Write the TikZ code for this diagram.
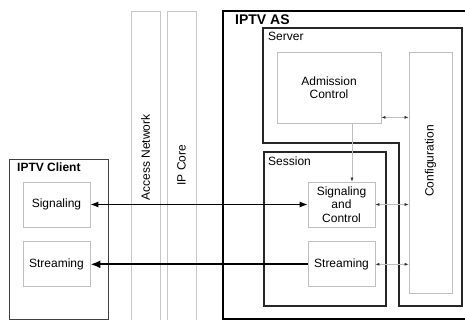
\documentclass[tikz,border=0pt]{standalone}
\usepackage{fontspec}
\setmainfont{Liberation Sans}
\usepackage{tikz}
\usetikzlibrary{arrows.meta}
\usetikzlibrary{positioning}
\tikzset{>={Latex[length=8pt,width=6pt]}}
\tikzset{
  part/.style={draw=black!25, line width=0.8pt, minimum width=67pt, minimum height=45pt,
    align=center, inner sep=0pt, font=\fontsize{12}{13.5}\selectfont},
  column/.style={draw=black!22, line width=0.8pt},
  tag/.style={inner sep=0pt, anchor=north west, font=\fontsize{12}{13.5}\selectfont},
  link/.style={draw=black!25, line width=0.6pt,
    arrows={Latex[black!80,length=4pt,width=3pt]-Latex[black!80,length=4pt,width=3pt]}}
}

\begin{document}
\begin{tikzpicture}[x=1pt, y=1pt, node distance=14pt]
            \useasboundingbox (0,0) rectangle (465,320);
            % network columns
            \draw [column] (131,-5) rectangle (160,309);
            \draw [column] (167,-5) rectangle (196,309);
            \node [rotate=90, font=\fontsize{12}{13.5}\selectfont] (access) at (145.5,162.5) {Access Network};
            \node [rotate=90, font=\fontsize{12}{13.5}\selectfont] (core) at (181.5,155) {IP Core};
            % client side
            \draw [draw=black!75, line width=1pt] (9,0.5) rectangle (108,160);
            \node [tag, font=\bfseries\fontsize{12}{13.5}\selectfont] (clientname) at (17,157) {IPTV Client};
            \node [part] (clientsig) at (56.5,115.5) {Signaling};
            \node [part, below=of clientsig] (clientstream) {Streaming};
            % application server
            \draw [line width=2pt] (223,1) rectangle (490,309);
            \node [tag, font=\bfseries\fontsize{14}{16}\selectfont] (asname) at (235,305) {IPTV AS};
            \draw [draw=black!85, line width=1.3pt]
                (263,292) -- (462,292) -- (462,14) -- (399,14) -- (399,177) -- (263,177) -- cycle;
            \node [tag] (server) at (268,288.5) {Server};
            \draw [draw=black!85, line width=1.3pt] (264,14) rectangle (386,168);
            \node [tag] (session) at (268,163.5) {Session};
            \node [part, minimum width=104pt, minimum height=71pt] (admission) at (329,232.5) {Admission\\Control};
            \node [part, minimum width=43pt, minimum height=241pt] (config) at (430.5,147.5) {};
            \node [rotate=90, font=\fontsize{12}{13.5}\selectfont] (configname) at (430.5,159) {Configuration};
            \node [part] (asctrl) at (341.5,115.5) {Signaling\\and\\Control};
            \node [part, below=of asctrl] (asstream) {Streaming};
            % links
            \draw [<->, line width=1pt] (clientsig.east) -- (asctrl.west);
            \draw [->, line width=2pt, >={Latex[length=10pt,width=8pt]}] (asstream.west) -- (clientstream.east);
            \coordinate (admout) at ([yshift=6pt]admission.south east);
            \draw [link] (admout) -- (admout -| config.west);
            \draw [link] (asctrl.east) -- (asctrl.east -| config.west);
            \draw [link] (asstream.east) -- (asstream.east -| config.west);
            \coordinate (drop) at ([xshift=23pt]admission.south);
            \draw [link, arrows={-Latex[black!80,length=4pt,width=3pt]}] (drop) -- (drop |- asctrl.north);
        \end{tikzpicture}
\end{document}
